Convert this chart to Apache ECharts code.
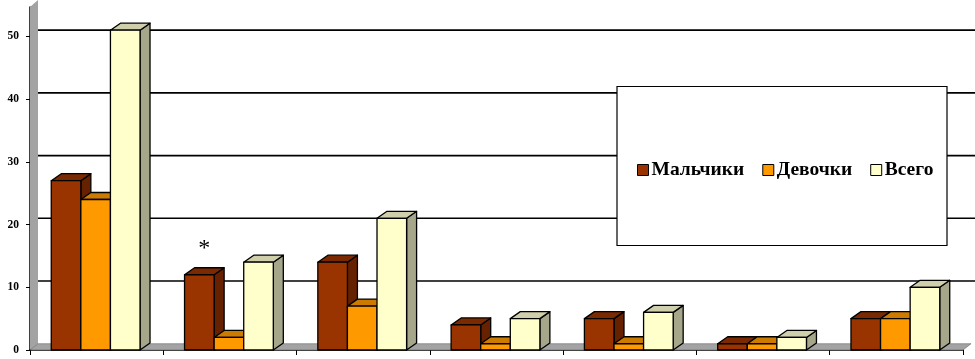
<!DOCTYPE html>
<html><head><meta charset="utf-8">
<script src="https://cdn.jsdelivr.net/npm/echarts@6/dist/echarts.min.js"></script>
<style>html,body{margin:0;padding:0;background:#fff}#c{width:975px;height:359px}</style>
</head><body><div id="c"></div>
<script>
const categories = ['1', '2', '3', '4', '5', '6', '7'];
const seriesNames = ['Мальчики', 'Девочки', 'Всего'];
const boys = [27, 12, 14, 4, 5, 1, 5];
const girls = [24, 2, 7, 1, 1, 1, 5];
const total = [51, 14, 21, 5, 6, 2, 10];
const yTicks = [0, 10, 20, 30, 40, 50];
const notes = ['', '*', '', '', '', '', ''];

const palette = [
  {front: '#993300', top: '#7a2900', side: '#662200'},
  {front: '#ff9900', top: '#cc7a00', side: '#b36b00'},
  {front: '#ffffcc', top: '#cfcfab', side: '#a6a68a'}
];
const DX = 10, DY = -7;      // bar depth
const WX = 8, WY = -6.3;     // wall depth
const BAR_FRAC = 0.222;

const chart = echarts.init(document.getElementById('c'), null, {renderer: 'canvas'});

function barRender(k, pal) {
  return function (params, api) {
    const i = api.value(0), v = api.value(1);
    const c = api.coord([i, v]);
    const base = api.coord([i, 0])[1];
    const band = api.size([1, 0])[0];
    const w = band * BAR_FRAC;
    const x0 = c[0] + (k - 0.5) * w - 1, x1 = x0 + w, yT = c[1];
    const stroke = {stroke: '#000', lineWidth: 1.3, lineJoin: 'round'};
    const children = [
      {type: 'polygon', shape: {points: [[x1, yT], [x1 + DX, yT + DY], [x1 + DX, base + DY], [x1, base]]},
        style: Object.assign({fill: pal.side}, stroke)},
      {type: 'polygon', shape: {points: [[x0, yT], [x1, yT], [x1 + DX, yT + DY], [x0 + DX, yT + DY]]},
        style: Object.assign({fill: pal.top}, stroke)},
      {type: 'rect', shape: {x: x0, y: yT, width: w, height: base - yT},
        style: Object.assign({fill: pal.front}, stroke)}
    ];
    if (k === -1 && notes[i]) {
      children.push({type: 'text', style: {x: (x0 + x1) / 2 + DX / 2, y: yT - 26, text: notes[i],
        fill: '#000', font: '24px "Liberation Serif"', align: 'center', verticalAlign: 'middle'}});
    }
    return {type: 'group', children: children};
  };
}

function backdropRender(params, api) {
  const cs = params.coordSys;
  const ax = cs.x, xr = cs.x + cs.width;
  const y0 = api.coord([0, 0])[1];
  const children = [];
  children.push({type: 'polygon', shape: {points: [[ax, y0], [ax + WX, y0 + WY], [ax + WX, cs.y - 7], [ax, cs.y]]},
    style: {fill: '#a3a3a3'}});
  children.push({type: 'polygon', shape: {points: [[ax, y0], [xr, y0], [xr + WX, y0 + WY], [ax + WX, y0 + WY]]},
    style: {fill: '#a3a3a3', stroke: '#555', lineWidth: 0.5}});
  yTicks.forEach(function (v) {
    if (v === 0) return;
    const y = api.coord([0, v])[1] + WY;
    children.push({type: 'line', shape: {x1: ax + WX, y1: y, x2: 975, y2: y},
      style: {stroke: '#000', lineWidth: 1.6}});
  });
  return {type: 'group', children: children};
}

const series = [{
  type: 'custom', name: 'backdrop', z: 1, silent: true,
  data: [[0, 0]], renderItem: backdropRender, clip: false
}];
[boys, girls, total].forEach(function (arr, s) {
  series.push({
    type: 'custom', name: seriesNames[s], z: 3, clip: false,
    itemStyle: {color: palette[s].front, borderColor: '#000', borderWidth: 1},
    encode: {x: 0, y: 1},
    data: arr.map(function (v, i) { return [i, v]; }),
    renderItem: barRender(s - 1, palette[s])
  });
});

chart.setOption({
  animation: false,
  backgroundColor: '#fff',
  grid: {left: 30, right: 12, top: 7, bottom: 9, containLabel: false},
  xAxis: {
    type: 'category', data: categories, boundaryGap: true,
    axisLine: {show: true, lineStyle: {color: '#000', width: 1.5}},
    axisTick: {show: true, length: 5, lineStyle: {color: '#000', width: 1}},
    axisLabel: {show: false}, splitLine: {show: false}
  },
  yAxis: {
    type: 'value', min: 0, max: 54.7,
    axisLine: {show: true, lineStyle: {color: '#000', width: 1.5}},
    axisTick: {show: true, length: 4, customValues: yTicks, lineStyle: {color: '#000'}},
    axisLabel: {customValues: yTicks, margin: 11, color: '#000', fontFamily: 'Liberation Serif',
      fontWeight: 'bold', fontSize: 11.5},
    splitLine: {show: false}
  },
  legend: {
    data: seriesNames, left: 632, top: 155, orient: 'horizontal',
    itemWidth: 11, itemHeight: 11, itemGap: 18, icon: 'rect', z: 20,
    itemStyle: {borderColor: '#000', borderWidth: 1},
    textStyle: {fontFamily: 'Liberation Serif', fontWeight: 'bold', fontSize: 19.5, color: '#000', padding: [0, 0, 0, -2]}
  },
  graphic: [{
    type: 'rect', z: 15, shape: {x: 617, y: 86.5, width: 330, height: 159},
    style: {fill: '#fff', stroke: '#000', lineWidth: 1.2}
  }],
  series: series
});
</script>
</body></html>
